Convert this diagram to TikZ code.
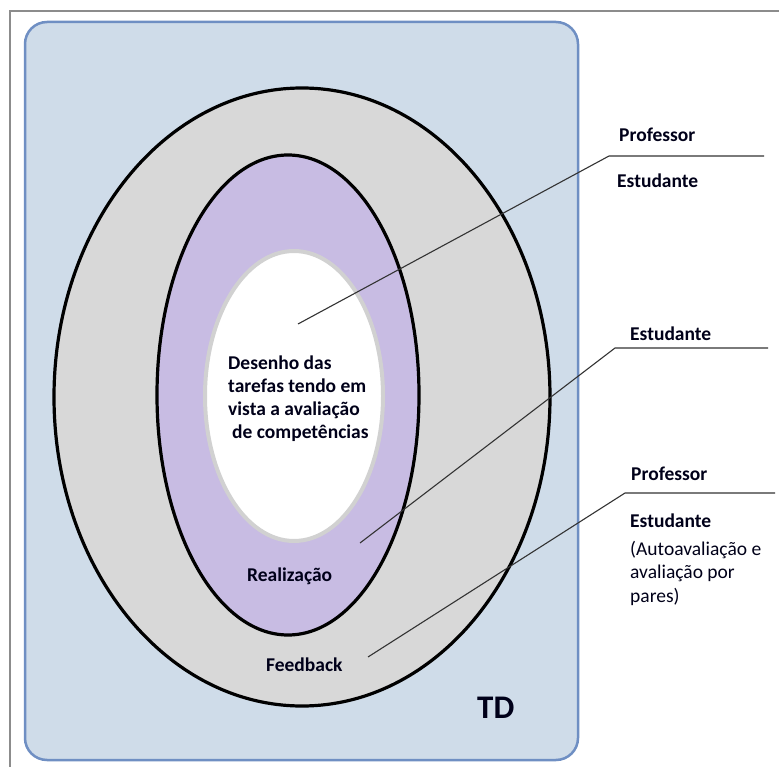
\documentclass[tikz,border=0pt]{standalone}
\usepackage{fontspec}
\setmainfont{Carlito}
\begin{document}
\begin{tikzpicture}[x=1pt,y=-1pt,
  lbl/.style={font=\fontsize{19.5}{23}\selectfont\bfseries, text=black!90!blue, inner sep=0pt, anchor=base west},
  note/.style={font=\fontsize{19.5}{23.5}\selectfont, text=black!90!blue, inner sep=0pt, anchor=north west, align=left},
  ring/.style={draw=black, line width=3.2pt},
  pointer/.style={draw=black!80, line width=1.1pt}]
\definecolor{tdfill}{HTML}{CFDCE9}
\definecolor{tdline}{HTML}{6F8FC3}
\definecolor{feedfill}{HTML}{D8D8D8}
\definecolor{realfill}{HTML}{C8BCE3}
\useasboundingbox (0,0) rectangle (779,767);
\fill[white] (0,0) rectangle (779,767);
% frame
\draw[black!45, line width=1.2pt] (10,790) -- (10,11) -- (800,11);
% TD panel
\draw[tdline, fill=tdfill, line width=2.5pt, rounded corners=22pt] (25,22) rectangle (578,760);
% nested ellipses
\draw[ring, fill=feedfill] (302,397) ellipse [x radius=248, y radius=309];
\draw[ring, fill=realfill] (288,395) ellipse [x radius=131, y radius=240];
\draw[draw=black!18, line width=4pt, fill=white] (294,396) ellipse [x radius=89, y radius=145];
% labels inside
\node[lbl, align=left, anchor=north west] (core) at (228,356)
  {Desenho das\\tarefas tendo em\\vista a avaliação\\\hspace*{4pt}de competências};
\node[lbl] (real) at (247,581) {Realização};
\node[lbl] (feed) at (266,671) {Feedback};
\node[lbl, font=\fontsize{33}{36}\selectfont\bfseries] (td) at (477,718) {TD};
% pointer anchors
\coordinate (a1) at (298,324);
\coordinate (b1) at (609,156);
\coordinate (c1) at (764,156);
\coordinate (a2) at (360,543);
\coordinate (b2) at (615,348);
\coordinate (c2) at (768,348);
\coordinate (a3) at (368,657);
\coordinate (b3) at (625,493);
\coordinate (c3) at (775,493);
\draw[pointer] (a1) -- (b1) -- (c1);
\draw[pointer] (a2) -- (b2) -- (c2);
\draw[pointer] (a3) -- (b3) -- (c3);
% side labels
\node[lbl] (prof1) at (619,142) {Professor};
\node[lbl] (est1) at (617,188) {Estudante};
\node[lbl] (est2) at (630,340) {Estudante};
\node[lbl] (prof2) at (631,480) {Professor};
\node[lbl] (est3) at (630,527) {Estudante};
\node[note] (auto) at (630,541) {(Autoavaliação e\\avaliação por\\pares)};
\end{tikzpicture}
\end{document}
